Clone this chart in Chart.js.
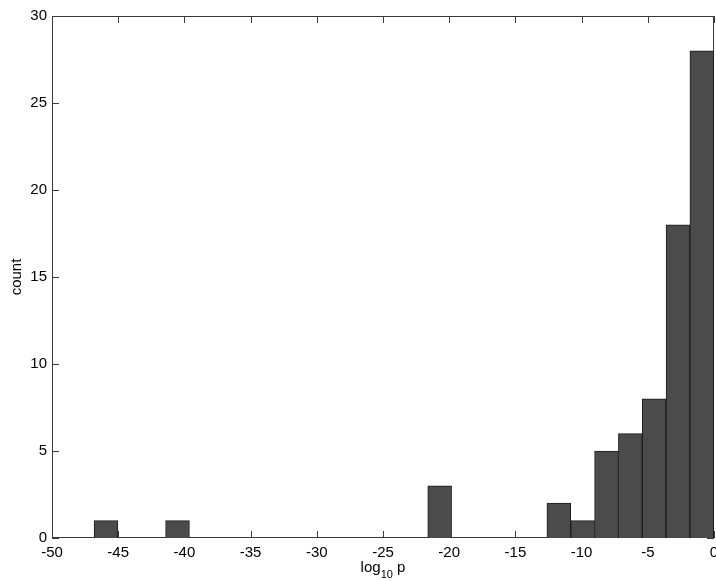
<!DOCTYPE html>
<html>
<head>
<meta charset="utf-8">
<script src="https://cdn.jsdelivr.net/npm/chart.js@4.4.1/dist/chart.umd.min.js"></script>
<style>
html, body { margin: 0; padding: 0; background: #fff; }
#wrap { width: 716px; height: 581px; position: relative; }
</style>
</head>
<body>
<div id="wrap"><canvas id="grafico"></canvas></div>
<script>
// bin centres (log10 p) and counts
const binCentros = [-45.92, -40.52, -20.72, -11.72, -9.92, -8.12, -6.32, -4.52, -2.72, -0.92];
const conteos = [1, 1, 3, 2, 1, 5, 6, 8, 18, 28];
const ticksX = [-50, -45, -40, -35, -30, -25, -20, -15, -10, -5, 0];
const ticksY = [0, 5, 10, 15, 20, 25, 30];

const FUENTE = '"Liberation Sans", Arial, sans-serif';
const COLOR_EJE = '#3a3a3a';

// axis frame + inward tick marks (matlab style), drawn under the bars
const marco = {
    id: 'marco',
    beforeDatasetsDraw(chart) {
        const { ctx, chartArea: a, scales } = chart;
        const largo = 7;
        ctx.save();
        ctx.strokeStyle = COLOR_EJE;
        ctx.lineWidth = 1;
        ctx.beginPath();
        ctx.rect(a.left + 0.5, a.top + 0.5, a.right - a.left - 1, a.bottom - a.top - 1);
        scales.x.ticks.forEach(t => {
            const px = Math.round(scales.x.getPixelForValue(t.value)) + 0.5;
            ctx.moveTo(px, a.bottom); ctx.lineTo(px, a.bottom - largo);
            ctx.moveTo(px, a.top); ctx.lineTo(px, a.top + largo);
        });
        scales.y.ticks.forEach(t => {
            const py = Math.round(scales.y.getPixelForValue(t.value)) + 0.5;
            ctx.moveTo(a.left, py); ctx.lineTo(a.left + largo, py);
            ctx.moveTo(a.right, py); ctx.lineTo(a.right - largo, py);
        });
        ctx.stroke();
        ctx.restore();
    },
    afterDraw(chart) {
        const { ctx, chartArea: a } = chart;
        ctx.save();
        ctx.fillStyle = '#000';
        // x title: log_10 p
        ctx.textBaseline = 'alphabetic';
        ctx.textAlign = 'left';
        ctx.font = '15px ' + FUENTE;
        const w1 = ctx.measureText('log').width;
        const w3 = ctx.measureText(' p').width;
        ctx.font = '11px ' + FUENTE;
        const w2 = ctx.measureText('10').width;
        let x = (a.left + a.right) / 2 - (w1 + w2 + w3) / 2;
        ctx.font = '15px ' + FUENTE;
        ctx.fillText('log', x, 572);
        ctx.font = '11px ' + FUENTE;
        ctx.fillText('10', x + w1, 578);
        ctx.font = '15px ' + FUENTE;
        ctx.fillText(' p', x + w1 + w2, 572);
        // y title
        ctx.translate(17, (a.top + a.bottom) / 2);
        ctx.rotate(-Math.PI / 2);
        ctx.textAlign = 'center';
        ctx.textBaseline = 'middle';
        ctx.fillText('count', 0, 0);
        ctx.restore();
    }
};

new Chart(document.getElementById('grafico'), {
    type: 'bar',
    data: {
        datasets: [{
            data: binCentros.map((c, i) => ({ x: c, y: conteos[i] })),
            backgroundColor: '#4b4b4b',
            borderColor: '#1c1c1c',
            borderWidth: 1,
            barPercentage: 1,
            categoryPercentage: 1
        }]
    },
    options: {
        responsive: true,
        maintainAspectRatio: false,
        animation: false,
        layout: { padding: { top: 16, right: 2, left: 0, bottom: 0 } },
        plugins: { legend: { display: false }, tooltip: { enabled: false } },
        scales: {
            x: {
                type: 'linear',
                min: -50, max: 0,
                offset: false,
                grid: { display: false, drawTicks: false },
                border: { display: false },
                ticks: { padding: 6, color: '#000', font: { family: FUENTE, size: 15 }, maxRotation: 0, autoSkip: false },
                afterBuildTicks: s => { s.ticks = ticksX.map(v => ({ value: v })); },
                afterFit: s => { s.height = 43; s.paddingLeft = 0; s.paddingRight = 0; }
            },
            y: {
                min: 0, max: 30,
                grid: { display: false, drawTicks: false },
                border: { display: false },
                ticks: { padding: 5, color: '#000', font: { family: FUENTE, size: 15 } },
                afterBuildTicks: s => { s.ticks = ticksY.map(v => ({ value: v })); },
                afterFit: s => { s.width = 52; s.paddingTop = 0; s.paddingBottom = 0; }
            }
        }
    },
    plugins: [marco]
});
</script>
</body>
</html>
